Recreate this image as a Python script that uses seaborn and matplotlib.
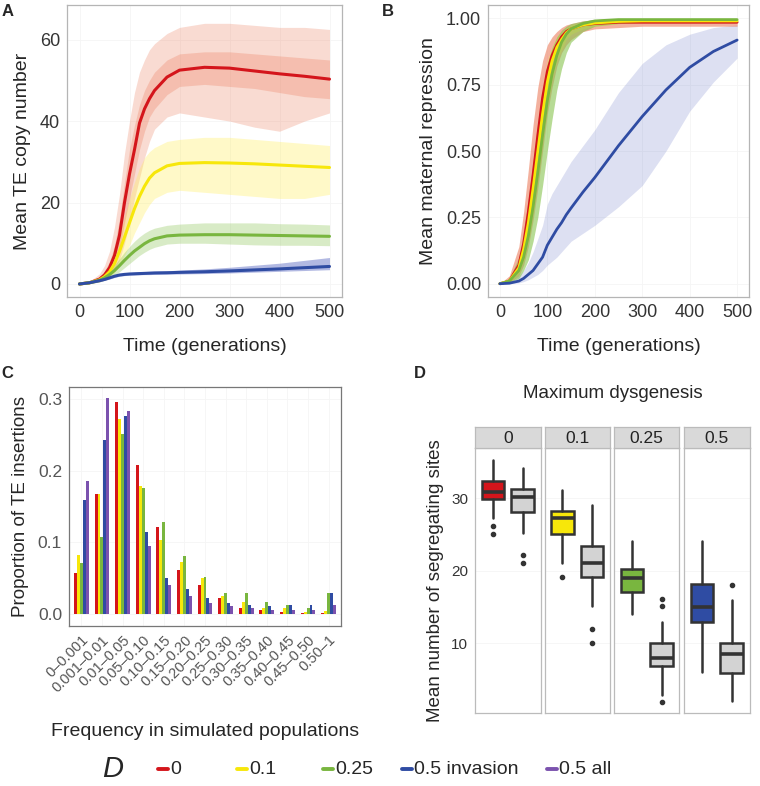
import numpy as np
import pandas as pd
import matplotlib.pyplot as plt
import seaborn as sns
from matplotlib.lines import Line2D

# ---- data ----
d_labels = ["0", "0.1", "0.25", "0.5 invasion", "0.5 all"]
d_colors = ["#D4151B", "#F7E70A", "#79B63F", "#2F4CA3", "#7B52AE"]
band_colors = ["#EC7E5E", "#FFEE55", "#88C34E", "#5565C0"]

t = [0, 20, 40, 50, 60, 70, 80, 90, 100, 110, 120, 130, 140, 150, 175, 200, 250, 300, 350, 400, 450, 500]

# panel A: mean TE copy number (mean line + spread of replicate runs)
copy_mean = {
    "0":    [0, 0.3, 1.2, 2.2, 4, 7, 12, 20, 27, 33, 39.5, 43, 45.5, 47.5, 50.8, 52.5, 53.2, 53.0, 52.3, 51.6, 51.0, 50.3],
    "0.1":  [0, 0.3, 1.0, 1.8, 3, 5, 8, 11.5, 15, 18.5, 21.5, 24, 26, 27.3, 29, 29.6, 29.8, 29.7, 29.5, 29.2, 28.9, 28.6],
    "0.25": [0, 0.3, 0.9, 1.5, 2.3, 3.3, 4.5, 5.8, 7.0, 8.1, 9.0, 9.9, 10.6, 11.1, 11.8, 12.0, 12.1, 12.1, 12.0, 11.9, 11.8, 11.7],
    "0.5":  [0, 0.3, 0.8, 1.1, 1.5, 1.9, 2.2, 2.35, 2.45, 2.5, 2.55, 2.6, 2.65, 2.7, 2.75, 2.85, 3.0, 3.2, 3.45, 3.7, 4.0, 4.3],
}
copy_hi = {
    "0":    [0, 0.6, 2.5, 4.5, 8, 14, 22, 32, 40, 47, 52, 55, 57.5, 59, 61.5, 63, 64, 64, 63.5, 63, 63, 62.5],
    "0.1":  [0, 0.5, 1.8, 3, 5, 8, 12, 16.5, 21, 25, 28.5, 31, 32.5, 33.5, 35, 35.5, 36, 36, 35.5, 35, 34.5, 34],
    "0.25": [0, 0.5, 1.4, 2.2, 3.3, 4.6, 6.2, 7.8, 9.2, 10.5, 11.6, 12.5, 13.2, 13.7, 14.4, 14.7, 15, 15, 15, 14.8, 14.7, 14.5],
    "0.5":  [0, 0.4, 1.0, 1.4, 1.8, 2.2, 2.5, 2.7, 2.8, 2.9, 3.0, 3.05, 3.1, 3.15, 3.25, 3.4, 3.7, 4.1, 4.6, 5.1, 5.8, 6.5],
}
copy_lo = {
    "0":    [0, 0.1, 0.5, 1, 2, 3.5, 6, 10, 15, 21, 26, 31, 35, 38, 41, 42, 41, 40, 38.5, 37.5, 40, 42],
    "0.1":  [0, 0.1, 0.5, 1, 1.7, 2.8, 4.5, 7, 9.5, 12.5, 15, 17.5, 19.5, 21, 22.5, 23, 22.5, 22, 21.5, 21, 21, 22],
    "0.25": [0, 0.1, 0.5, 0.9, 1.4, 2.1, 3, 4, 5, 6, 7, 7.8, 8.5, 9, 9.8, 10, 10, 9.8, 9.6, 9.5, 9.5, 9.4],
    "0.5":  [0, 0.2, 0.6, 0.9, 1.2, 1.6, 1.9, 2.05, 2.15, 2.2, 2.25, 2.3, 2.3, 2.35, 2.4, 2.45, 2.55, 2.7, 2.9, 3.1, 3.3, 3.5],
}
# where most of the D = 0 runs sit
copy_core_hi_d0 = [0, 0.4, 1.8, 3.2, 5.5, 9.5, 16, 25, 33, 39, 44, 47.5, 50, 52, 55, 56.5, 57, 57, 56.5, 56, 55.5, 55]
copy_core_lo_d0 = [0, 0.2, 0.8, 1.4, 2.8, 5, 8.5, 15, 21, 27, 33, 37.5, 41, 43, 46.5, 48.5, 49, 48.5, 48, 47, 46, 45.5]

# panel B: mean maternal repression
rep_mean = {
    "0":    [0, 0.01, 0.07, 0.15, 0.27, 0.41, 0.56, 0.70, 0.80, 0.86, 0.90, 0.93, 0.95, 0.96, 0.975, 0.98, 0.985, 0.985, 0.985, 0.985, 0.985, 0.985],
    "0.1":  [0, 0.01, 0.06, 0.13, 0.23, 0.36, 0.50, 0.64, 0.76, 0.84, 0.89, 0.92, 0.945, 0.96, 0.975, 0.982, 0.988, 0.99, 0.99, 0.99, 0.99, 0.99],
    "0.25": [0, 0.01, 0.05, 0.10, 0.18, 0.29, 0.42, 0.56, 0.69, 0.79, 0.86, 0.91, 0.94, 0.96, 0.98, 0.99, 0.995, 0.995, 0.995, 0.995, 0.995, 0.995],
    "0.5":  [0, 0.002, 0.01, 0.02, 0.035, 0.05, 0.075, 0.10, 0.145, 0.175, 0.205, 0.23, 0.26, 0.285, 0.345, 0.40, 0.52, 0.63, 0.73, 0.815, 0.875, 0.918],
}
rep_hi = {
    "0":    [0, 0.03, 0.14, 0.27, 0.43, 0.60, 0.74, 0.84, 0.90, 0.93, 0.95, 0.965, 0.975, 0.98, 0.99, 0.995, 0.998, 0.998, 0.998, 0.998, 0.998, 0.998],
    "0.1":  [0, 0.02, 0.09, 0.19, 0.31, 0.46, 0.61, 0.74, 0.84, 0.89, 0.93, 0.95, 0.965, 0.975, 0.985, 0.99, 0.995, 0.995, 0.995, 0.995, 0.995, 0.995],
    "0.25": [0, 0.02, 0.10, 0.19, 0.32, 0.46, 0.61, 0.73, 0.83, 0.89, 0.93, 0.955, 0.97, 0.98, 0.99, 0.995, 0.998, 0.998, 0.998, 0.998, 0.998, 0.998],
    "0.5":  [0, 0.01, 0.03, 0.05, 0.08, 0.12, 0.17, 0.22, 0.30, 0.34, 0.37, 0.40, 0.43, 0.46, 0.52, 0.58, 0.72, 0.83, 0.90, 0.94, 0.965, 0.975],
}
rep_lo = {
    "0":    [0, 0.005, 0.03, 0.07, 0.14, 0.24, 0.36, 0.50, 0.64, 0.74, 0.82, 0.87, 0.90, 0.92, 0.95, 0.96, 0.965, 0.97, 0.97, 0.97, 0.97, 0.97],
    "0.1":  [0, 0.005, 0.04, 0.09, 0.16, 0.27, 0.40, 0.54, 0.67, 0.77, 0.84, 0.88, 0.92, 0.94, 0.96, 0.97, 0.98, 0.985, 0.985, 0.985, 0.985, 0.985],
    "0.25": [0, 0.005, 0.02, 0.05, 0.09, 0.16, 0.25, 0.37, 0.50, 0.62, 0.73, 0.81, 0.87, 0.91, 0.95, 0.97, 0.98, 0.985, 0.985, 0.985, 0.985, 0.985],
    "0.5":  [0, 0, 0.003, 0.008, 0.015, 0.025, 0.035, 0.05, 0.07, 0.085, 0.10, 0.12, 0.14, 0.16, 0.19, 0.22, 0.29, 0.37, 0.50, 0.65, 0.76, 0.85],
}

# panel C: frequency spectrum of insertions
freq_bins = ["0\u20130.001", "0.001\u20130.01", "0.01\u20130.05", "0.05\u20130.10", "0.10\u20130.15",
             "0.15\u20130.20", "0.20\u20130.25", "0.25\u20130.30", "0.30\u20130.35", "0.35\u20130.40",
             "0.40\u20130.45", "0.45\u20130.50", "0.50\u20131"]
prop_d0 =     [0.058, 0.168, 0.295, 0.208, 0.122, 0.062, 0.041, 0.022, 0.009, 0.006, 0.003, 0.001, 0.001]
prop_d01 =    [0.082, 0.167, 0.272, 0.179, 0.104, 0.073, 0.050, 0.025, 0.017, 0.009, 0.008, 0.003, 0.005]
prop_d025 =   [0.071, 0.107, 0.251, 0.176, 0.129, 0.081, 0.052, 0.029, 0.029, 0.017, 0.013, 0.008, 0.029]
prop_d05inv = [0.159, 0.243, 0.276, 0.114, 0.051, 0.035, 0.023, 0.016, 0.013, 0.011, 0.013, 0.013, 0.030]
prop_d05all = [0.186, 0.301, 0.283, 0.095, 0.040, 0.025, 0.016, 0.011, 0.009, 0.006, 0.006, 0.006, 0.013]

# panel D: segregating sites, box statistics per facet (invasion box, all box)
facets = ["0", "0.1", "0.25", "0.5"]
inv_med = [30.8, 27.2, 19.0, 15.0]
inv_q1 = [29.9, 25.1, 17.0, 12.9]
inv_q3 = [32.3, 28.2, 20.3, 18.1]
inv_lo = [27.2, 21.1, 14.0, 6.0]
inv_hi = [35.2, 31.1, 24.1, 24.1]
inv_out = [[26.1, 25.1], [19.1], [], []]
all_med = [30.2, 21.1, 8.0, 8.5]
all_q1 = [28.1, 19.1, 6.9, 5.9]
all_q3 = [31.2, 23.4, 10.0, 10.0]
all_lo = [25.2, 15.1, 2.9, 2.0]
all_hi = [34.2, 29.1, 12.9, 16.0]
all_out = [[22.1, 21.1], [12.0, 10.0], [16.1, 15.1, 1.9], [18.0]]

# ---- style ----
sns.set_style("white")
plt.rcParams['font.family'] = ['Liberation Sans', 'DejaVu Sans']
tick_col = "#333333"

W, H = 760, 786
fig = plt.figure(figsize=(7.6, 7.86), dpi=100)


def box(l, t_, r, b):
    return [l / W, 1 - b / H, (r - l) / W, (b - t_) / H]


def frame(ax, col="#B5B5B5", size=13):
    for s in ax.spines.values():
        s.set_visible(True)
        s.set_color(col)
        s.set_linewidth(0.9)
    ax.grid(True, color="#F5F5F5", linewidth=0.6)
    ax.set_axisbelow(True)
    ax.tick_params(length=3, width=0.7, color=tick_col, labelcolor=tick_col, labelsize=size, pad=2)


groups = ["0", "0.1", "0.25", "0.5"]

# ---- A ----
axA = fig.add_axes(box(67, 5, 342, 297))
dfA = pd.DataFrame([(tt, v, g) for g in groups for tt, v in zip(t, copy_mean[g])],
                   columns=["t", "copies", "D"])
for g, bc, al in zip(groups, band_colors, [0.28, 0.32, 0.32, 0.45]):
    axA.fill_between(t, copy_lo[g], copy_hi[g], color=bc, alpha=al, lw=0)
axA.fill_between(t, copy_core_lo_d0, copy_core_hi_d0, color=band_colors[0], alpha=0.3, lw=0)
sns.lineplot(data=dfA, x="t", y="copies", hue="D", hue_order=groups,
             palette=d_colors[:4], linewidth=2.2, legend=False, ax=axA)
axA.set_xlim(-25, 525)
axA.set_ylim(-3.2, 68.5)
axA.set_xticks([0, 100, 200, 300, 400, 500])
axA.set_yticks([0, 20, 40, 60])
axA.set_xlabel("Time (generations)", fontsize=14, labelpad=12)
axA.set_ylabel("Mean TE copy number", fontsize=14, labelpad=6)
frame(axA)

# ---- B ----
axB = fig.add_axes(box(488, 5, 749, 297))
dfB = pd.DataFrame([(tt, v, g) for g in groups for tt, v in zip(t, rep_mean[g])],
                   columns=["t", "rep", "D"])
for g, bc, al in zip(["0.5", "0", "0.1", "0.25"], [band_colors[3], band_colors[0], band_colors[1], band_colors[2]],
                     [0.2, 0.6, 0.5, 0.6]):
    axB.fill_between(t, rep_lo[g], rep_hi[g], color=bc, alpha=al, lw=0)
sns.lineplot(data=dfB, x="t", y="rep", hue="D", hue_order=groups,
             palette=d_colors[:4], linewidth=2.0, legend=False, ax=axB)
axB.set_xlim(-25, 525)
axB.set_ylim(-0.05, 1.05)
axB.set_xticks([0, 100, 200, 300, 400, 500])
axB.set_yticks([0, 0.25, 0.5, 0.75, 1.0])
axB.set_yticklabels(["0.00", "0.25", "0.50", "0.75", "1.00"])
axB.set_xlabel("Time (generations)", fontsize=14, labelpad=12)
axB.set_ylabel("Mean maternal repression", fontsize=14, labelpad=6)
frame(axB)

# ---- C ----
axC = fig.add_axes(box(69, 387, 341, 626))
props = [prop_d0, prop_d01, prop_d025, prop_d05inv, prop_d05all]
dfC = pd.DataFrame([(b, v, lab) for lab, p in zip(d_labels, props) for b, v in zip(freq_bins, p)],
                   columns=["bin", "prop", "D"])
sns.barplot(data=dfC, x="bin", y="prop", hue="D", hue_order=d_labels, order=freq_bins,
            palette=d_colors, saturation=1, width=0.72, legend=False, ax=axC,
            linewidth=0, edgecolor="none")
axC.set_xlim(-0.6, 12.6)
axC.set_ylim(-0.0165, 0.3165)
axC.set_yticks([0, 0.1, 0.2, 0.3])
axC.set_yticklabels(["0.0", "0.1", "0.2", "0.3"])
frame(axC, col="#777777")
axC.tick_params(axis="y", labelcolor="#555555", labelsize=12.5)
axC.tick_params(axis="x", labelcolor="#555555", labelsize=10.5)
plt.setp(axC.get_xticklabels(), rotation=45, ha="right", rotation_mode="anchor")
axC.set_xlabel("Frequency in simulated populations", fontsize=14, labelpad=20)
axC.set_ylabel("Proportion of TE insertions", fontsize=13.5, labelpad=6)

# ---- D ----
fig.text(613 / W, 1 - 393 / H, "Maximum dysgenesis", fontsize=13.5, ha="center", va="center")
lefts = [475, 544.5, 614, 684]
for i, f in enumerate(facets):
    l = lefts[i]
    ax = fig.add_axes(box(l, 448, l + 65.5, 713))
    st = [dict(med=inv_med[i], q1=inv_q1[i], q3=inv_q3[i], whislo=inv_lo[i], whishi=inv_hi[i], fliers=inv_out[i]),
          dict(med=all_med[i], q1=all_q1[i], q3=all_q3[i], whislo=all_lo[i], whishi=all_hi[i], fliers=all_out[i])]
    bp = ax.bxp(st, positions=[1, 2], widths=0.75, patch_artist=True,
                boxprops=dict(edgecolor="#333333", linewidth=1.8),
                medianprops=dict(color="#333333", linewidth=2.6),
                whiskerprops=dict(color="#333333", linewidth=1.8),
                capprops=dict(linewidth=0),
                flierprops=dict(marker="o", markersize=3, markerfacecolor="#333333", markeredgecolor="#333333"))
    bp["boxes"][0].set_facecolor(d_colors[i])
    bp["boxes"][1].set_facecolor("#D3D3D3")
    ax.set_xlim(0.4, 2.6)
    ax.set_ylim(0.4, 36.9)
    ax.set_xticks([])
    ax.set_yticks([10, 20, 30])
    frame(ax, col="#BBBBBB", size=11)
    ax.grid(axis="x", visible=False)
    if i == 0:
        ax.set_ylabel("Mean number of segregating sites", fontsize=13.5, labelpad=5)
    else:
        ax.tick_params(axis="y", left=False, labelleft=False)
    strip = fig.add_axes(box(l, 427, l + 65.5, 448))
    strip.set_facecolor("#D9D9D9")
    strip.set_xticks([])
    strip.set_yticks([])
    for s in strip.spines.values():
        s.set_color("#BBBBBB")
        s.set_linewidth(0.9)
    strip.text(0.5, 0.45, f, ha="center", va="center", fontsize=12.5, color="#222222",
               transform=strip.transAxes)

# ---- panel letters ----
for lab, x, y in [("A", 8, 12), ("B", 388, 12), ("C", 7, 373), ("D", 420, 373)]:
    fig.text(x / W, 1 - y / H, lab, fontsize=12, fontweight="bold", ha="center", va="center")

# ---- shared legend ----
fig.text(113 / W, 1 - 769 / H, "D", fontsize=21, style="italic", ha="center", va="center")
leg_x = [158, 237, 323, 402, 547]
for x, lab, c in zip(leg_x, d_labels, d_colors):
    fig.add_artist(Line2D([x / W, (x + 10) / W], [1 - 769 / H] * 2, color=c, linewidth=2.8,
                          transform=fig.transFigure))
    fig.text((x + 12) / W, 1 - 769 / H, lab, fontsize=14, ha="left", va="center")

fig.savefig("out.png", dpi=100)
